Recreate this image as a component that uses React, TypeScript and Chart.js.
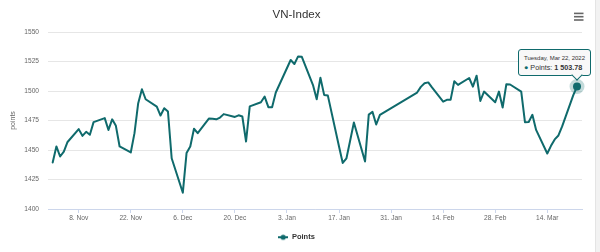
import { useEffect, useRef } from "react";
import { Chart, registerables } from "chart.js";

Chart.register(...registerables);

// ---- data ----
const dates: string[] = [
  "2021-11-01", "2021-11-02", "2021-11-03", "2021-11-04", "2021-11-05",
  "2021-11-08", "2021-11-09", "2021-11-10", "2021-11-11", "2021-11-12",
  "2021-11-15", "2021-11-16", "2021-11-17", "2021-11-18", "2021-11-19",
  "2021-11-22", "2021-11-23", "2021-11-24", "2021-11-25", "2021-11-26",
  "2021-11-29", "2021-11-30", "2021-12-01", "2021-12-02", "2021-12-03",
  "2021-12-06", "2021-12-07", "2021-12-08", "2021-12-09", "2021-12-10",
  "2021-12-13", "2021-12-14", "2021-12-15", "2021-12-16", "2021-12-17",
  "2021-12-20", "2021-12-21", "2021-12-22", "2021-12-23", "2021-12-24",
  "2021-12-27", "2021-12-28", "2021-12-29", "2021-12-30", "2021-12-31",
  "2022-01-04", "2022-01-05", "2022-01-06", "2022-01-07",
  "2022-01-10", "2022-01-11", "2022-01-12", "2022-01-13", "2022-01-14",
  "2022-01-17", "2022-01-18", "2022-01-19", "2022-01-20", "2022-01-21",
  "2022-01-24", "2022-01-25", "2022-01-26", "2022-01-27", "2022-01-28",
  "2022-02-07", "2022-02-08", "2022-02-09", "2022-02-10", "2022-02-11",
  "2022-02-14", "2022-02-15", "2022-02-16", "2022-02-17", "2022-02-18",
  "2022-02-21", "2022-02-22", "2022-02-23", "2022-02-24", "2022-02-25",
  "2022-02-28", "2022-03-01", "2022-03-02", "2022-03-03", "2022-03-04",
  "2022-03-07", "2022-03-08", "2022-03-09", "2022-03-10", "2022-03-11",
  "2022-03-14", "2022-03-15", "2022-03-16", "2022-03-17", "2022-03-18",
  "2022-03-21", "2022-03-22",
];

const values: number[] = [
  // Nov
  1439.4, 1453.0, 1444.5, 1448.7, 1456.8,
  1467.7, 1462.0, 1465.4, 1462.9, 1473.6,
  1477.0, 1467.0, 1476.0, 1470.5, 1453.0,
  1447.9, 1464.3, 1489.7, 1501.5, 1493.0,
  1486.8, 1479.2,
  // Dec
  1485.4, 1482.6, 1443.0,
  1413.8, 1447.4, 1453.0, 1468.0, 1464.3,
  1476.6, 1476.4, 1476.0, 1477.5, 1480.4,
  1478.0, 1479.4, 1478.4, 1457.2, 1487.0,
  1490.5, 1495.3, 1486.3, 1486.3, 1498.7,
  // Jan
  1526.3, 1522.9, 1529.3, 1529.0,
  1505.0, 1493.0, 1511.3, 1496.7, 1496.1,
  1453.0, 1439.0, 1443.0, 1458.0, 1473.3,
  1440.3, 1480.0, 1482.3, 1471.6, 1479.8,
  // Feb
  1498.7, 1503.5, 1506.5, 1507.3, 1503.0,
  1491.0, 1492.5, 1492.5, 1508.3, 1505.2,
  1511.0, 1503.7, 1513.0, 1491.6, 1499.5,
  1490.5,
  // Mar
  1499.5, 1486.0, 1505.8, 1505.5,
  1499.5, 1473.6, 1473.8, 1479.8, 1467.0,
  1447.0, 1453.5, 1459.0, 1462.3, 1470.0,
  1496.5, 1503.78,
];

const tickDates: string[] = [
  "2021-11-08", "2021-11-22", "2021-12-06", "2021-12-20", "2022-01-03",
  "2022-01-17", "2022-01-31", "2022-02-14", "2022-02-28", "2022-03-14",
];
const tickLabels: string[] = [
  "8. Nov", "22. Nov", "6. Dec", "20. Dec", "3. Jan",
  "17. Jan", "31. Jan", "14. Feb", "28. Feb", "14. Mar",
];

const seriesName = "Points";
const chartTitle = "VN-Index";
const yAxisTitle = "points";
const yMin = 1400;
const yMax = 1550;
const yStep = 25;

// ---- helpers / styles ----
const LINE = "#0f6a6c";
const HALO = "rgba(15,106,108,0.25)";
const FONT = "'Liberation Sans', Arial, Helvetica, sans-serif";
const ORIGIN = Date.UTC(2021, 10, 1);
const DAY = 86400000;
const X_MIN = -1.256;
const X_MAX = 142.34;

function dayOf(s: string): number {
  const [y, m, d] = s.split("-").map(Number);
  return (Date.UTC(y, m - 1, d) - ORIGIN) / DAY;
}

function fmtValue(v: number): string {
  const [i, f] = v.toFixed(2).split(".");
  return i.replace(/\B(?=(\d{3})+(?!\d))/g, " ") + "." + f;
}

function fmtDate(s: string): string {
  const [y, m, d] = s.split("-").map(Number);
  return new Date(Date.UTC(y, m - 1, d)).toLocaleDateString("en-US", {
    weekday: "long",
    month: "short",
    day: "numeric",
    year: "numeric",
    timeZone: "UTC",
  });
}

export default function App() {
  const canvasRef = useRef<HTMLCanvasElement>(null);
  const tipRef = useRef<HTMLDivElement>(null);

  useEffect(() => {
    document.body.style.margin = "0";
    const canvas = canvasRef.current!;
    const last = values.length - 1;

    // legend symbol: line with a circle marker
    const legendIcon = document.createElement("canvas");
    legendIcon.width = 10;
    legendIcon.height = 8;
    const lc = legendIcon.getContext("2d")!;
    lc.strokeStyle = LINE;
    lc.lineWidth = 2;
    lc.beginPath();
    lc.moveTo(0, 4);
    lc.lineTo(10, 4);
    lc.stroke();
    lc.fillStyle = LINE;
    lc.beginPath();
    lc.arc(5, 4, 2.6, 0, Math.PI * 2);
    lc.fill();

    const menuPlugin = {
      id: "menuIcon",
      afterDraw(chart: any) {
        const c = chart.ctx;
        c.save();
        c.fillStyle = "#666";
        for (let i = 0; i < 3; i++) c.fillRect(574, 12.6 + i * 3.3, 9.5, 1.6);
        c.restore();
      },
    };

    const tickFont = { family: FONT, size: 6.6 };

    const chart = new Chart(canvas, {
      type: "line",
      data: {
        datasets: [
          {
            label: seriesName,
            data: dates.map((d, i) => ({ x: dayOf(d), y: values[i] })),
            borderColor: LINE,
            backgroundColor: LINE,
            borderWidth: 2,
            borderJoinStyle: "round",
            borderCapStyle: "round",
            tension: 0,
            fill: false,
            clip: false,
            pointRadius: (ctx: any) => (ctx.dataIndex === last ? 4 : 0),
            pointBorderWidth: (ctx: any) => (ctx.dataIndex === last ? 7 : 0),
            pointBackgroundColor: LINE,
            pointBorderColor: HALO,
          } as any,
        ],
      },
      options: {
        responsive: false,
        animation: false,
        events: [],
        layout: { padding: { left: 0, right: 0, top: 0, bottom: 1 } },
        plugins: {
          title: {
            display: true,
            text: chartTitle,
            color: "#333",
            font: { family: FONT, size: 11.5, weight: "normal", lineHeight: 1.2 },
            padding: { top: 7.5, bottom: 10.7 },
          },
          legend: {
            display: true,
            position: "bottom",
            labels: {
              usePointStyle: true,
              pointStyleWidth: 10,
              padding: 10,
              color: "#333",
              font: { family: FONT, size: 7.5, weight: "bold" },
              generateLabels: () => [
                {
                  text: seriesName,
                  pointStyle: legendIcon as any,
                  fillStyle: LINE,
                  strokeStyle: LINE,
                  lineWidth: 0,
                  hidden: false,
                  datasetIndex: 0,
                  fontColor: "#333",
                } as any,
              ],
            },
          },
          tooltip: {
            enabled: false,
            external: ({ chart: ch, tooltip }: any) => {
              const el = tipRef.current;
              if (!el) return;
              if (!tooltip.dataPoints || !tooltip.dataPoints.length || tooltip.opacity === 0) {
                el.style.display = "none";
                return;
              }
              const idx = tooltip.dataPoints[0].dataIndex;
              el.innerHTML =
                `<div style="font-size:6px;line-height:8px;">${fmtDate(dates[idx])}</div>` +
                `<div style="font-size:7.2px;line-height:9px;margin-top:1.5px;">` +
                `<span style="color:${LINE}">\u25CF</span> ${seriesName}: <b>${fmtValue(values[idx])}</b></div>` +
                `<div class="caret" style="position:absolute;bottom:-4px;width:7px;height:7px;background:#f8f8f8;border-right:1px solid ${LINE};border-bottom:1px solid ${LINE};transform:rotate(45deg);"></div>`;
              el.style.display = "block";
              const w = el.offsetWidth;
              const h = el.offsetHeight;
              const left = Math.min(tooltip.caretX - w / 2, ch.width - w - 2);
              const top = tooltip.caretY - h - 9.6;
              el.style.left = left + "px";
              el.style.top = top + "px";
              const caret = el.querySelector(".caret") as HTMLDivElement;
              if (caret) caret.style.left = tooltip.caretX - left - 1 - 4 + "px";
            },
          },
        },
        scales: {
          x: {
            type: "linear",
            min: X_MIN,
            max: X_MAX,
            afterBuildTicks: (axis: any) => {
              axis.ticks = tickDates.map((d) => ({ value: dayOf(d) }));
            },
            afterFit: (axis: any) => {
              axis.height = 14.5;
            },
            ticks: {
              autoSkip: false,
              maxRotation: 0,
              minRotation: 0,
              padding: 1.5,
              color: "#666",
              font: tickFont,
              callback: (_v: any, i: number) => tickLabels[i],
            },
            grid: {
              display: true,
              drawOnChartArea: false,
              drawTicks: true,
              tickLength: 4,
              color: "#ccd6eb",
            },
            border: { display: true, color: "#ccd6eb" },
          },
          y: {
            type: "linear",
            min: yMin,
            max: yMax,
            afterFit: (axis: any) => {
              axis.width = 48;
            },
            ticks: {
              stepSize: yStep,
              padding: 9,
              color: "#666",
              font: tickFont,
              callback: (v: any) => String(v),
            },
            grid: { color: "#e6e6e6", drawTicks: false },
            border: { display: false },
            title: {
              display: true,
              text: yAxisTitle,
              color: "#666",
              font: { family: FONT, size: 7 },
              padding: { top: 9.3, bottom: 0 },
            },
          },
          yRight: {
            type: "linear",
            position: "right",
            display: true,
            afterFit: (axis: any) => {
              axis.width = 8;
            },
            ticks: { display: false },
            grid: { display: false },
            border: { display: false },
          },
        },
      } as any,
      plugins: [menuPlugin],
    });

    const pt: any = chart.getDatasetMeta(0).data[last];
    (chart.tooltip as any)?.setActiveElements([{ datasetIndex: 0, index: last }], { x: pt.x, y: pt.y });

    return () => {
      chart.destroy();
    };
  }, []);

  return (
    <div style={{ position: "relative", width: 600, height: 252, overflow: "hidden", background: "#fff" }}>
      <canvas ref={canvasRef} width={593} height={252} style={{ display: "block" }} />
      <div
        style={{
          position: "absolute",
          left: 595,
          top: 0,
          width: 5,
          height: 252,
          background: "#f2f2f2",
          borderLeft: "1px solid #e4e4e4",
        }}
      />
      <div
        ref={tipRef}
        style={{
          position: "absolute",
          display: "none",
          background: "#f8f8f8",
          border: `1px solid ${LINE}`,
          borderRadius: 3,
          padding: "4px 5px 3px 5px",
          fontFamily: FONT,
          color: "#333",
          whiteSpace: "nowrap",
          pointerEvents: "none",
        }}
      />
    </div>
  );
}
